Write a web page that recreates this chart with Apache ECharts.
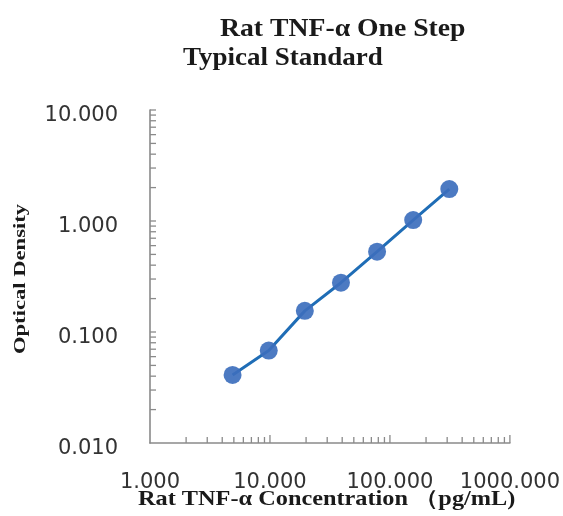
<!DOCTYPE html>
<html>
<head>
<meta charset="utf-8">
<script src="https://cdn.jsdelivr.net/npm/echarts@6/dist/echarts.min.js"></script>
<style>
html,body{margin:0;padding:0;background:#fff;}
#chart{width:563px;height:516px;}
</style>
</head>
<body>
<div id="chart"></div>
<script>
// Data
const concentrations = [4.88, 9.77, 19.53, 39.06, 78.13, 156.25, 312.5];
const opticalDensity = [0.041, 0.068, 0.155, 0.278, 0.529, 1.02, 1.94];
const xMinorTicks = [2,3,4,5,6,7,8,9,20,30,40,50,60,70,80,90,200,300,400,500,600,700,800,900];
const xMajorTicks = [10, 100, 1000];
const yMinorTicks = [0.02,0.03,0.04,0.05,0.06,0.07,0.08,0.09,0.2,0.3,0.4,0.5,0.6,0.7,0.8,0.9,2,3,4,5,6,7,8,9];
const yMajorTicks = [0.1, 1, 10];
const titleLine1 = 'Rat TNF-\u03b1 One Step';
const titleLine2 = 'Typical Standard';
const xAxisTitle = 'Rat TNF-\u03b1 Concentration \uff08pg/mL)';
const yAxisTitle = 'Optical Density';

const X_MIN = 1, X_MAX = 1000, Y_MIN = 0.01, Y_MAX = 10;
const tickColor = '#8a8a8a';
const serifBold = 'bold 25px "Liberation Serif"';

const xTickData = xMinorTicks.map(v => [v, Y_MIN, 0]).concat(xMajorTicks.map(v => [v, Y_MIN, 1]));
const yTickData = yMinorTicks.map(v => [X_MIN, v, 0]).concat(yMajorTicks.map(v => [X_MIN, v, 1]));

const chart = echarts.init(document.getElementById('chart'));
chart.setOption({
  backgroundColor: '#ffffff',
  animation: false,
  graphic: [
    {type: 'text', x: 220, y: 30, scaleX: 1.108, silent: true,
     style: {text: titleLine1, font: serifBold, fill: '#1a1a1a', textAlign: 'left', textVerticalAlign: 'middle', verticalAlign: 'middle'}},
    {type: 'text', x: 183, y: 59, scaleX: 1.08, silent: true,
     style: {text: titleLine2, font: serifBold, fill: '#1a1a1a', textAlign: 'left', textVerticalAlign: 'middle', verticalAlign: 'middle'}},
    {type: 'text', x: 138, y: 500, scaleX: 1.157, silent: true,
     style: {text: xAxisTitle, font: 'bold 21px "Liberation Serif"', fill: '#1a1a1a', textAlign: 'left', textVerticalAlign: 'middle', verticalAlign: 'middle'}},
    {type: 'text', x: 20.5, y: 279, rotation: Math.PI / 2, scaleX: 1.33, silent: true,
     style: {text: yAxisTitle, font: 'bold 17px "Liberation Serif"', fill: '#1a1a1a', textAlign: 'center', textVerticalAlign: 'middle', verticalAlign: 'middle'}}
  ],
  grid: {left: 150, right: 52, top: 110, bottom: 73, containLabel: false},
  xAxis: {
    type: 'log', logBase: 10, min: X_MIN, max: X_MAX,
    axisLine: {show: true, lineStyle: {color: tickColor, width: 1.6}},
    axisTick: {show: false},
    splitLine: {show: false},
    axisLabel: {fontFamily: 'DejaVu Sans', fontSize: 21, color: '#333', margin: 29,
      formatter: v => Number(v).toFixed(3)}
  },
  yAxis: {
    type: 'log', logBase: 10, min: Y_MIN, max: Y_MAX,
    axisLine: {show: true, lineStyle: {color: tickColor, width: 1.6}},
    axisTick: {show: false},
    splitLine: {show: false},
    axisLabel: {margin: 32,
      formatter: v => '{t|' + Number(v).toFixed(3) + '}',
      rich: {t: {fontFamily: 'DejaVu Sans', fontSize: 21, color: '#333', padding: [12, 0, 0, 0]}}}
  },
  series: [
    {
      type: 'custom', silent: true, clip: false, z: 1,
      data: xTickData,
      renderItem: function (params, api) {
        const p = api.coord([api.value(0), api.value(1)]);
        const len = api.value(2) ? 8 : 6;
        return {type: 'line', shape: {x1: p[0], y1: p[1], x2: p[0], y2: p[1] - len},
                style: {stroke: tickColor, lineWidth: 1.3}};
      }
    },
    {
      type: 'custom', silent: true, clip: false, z: 1,
      data: yTickData,
      renderItem: function (params, api) {
        const p = api.coord([api.value(0), api.value(1)]);
        const len = 6;
        return {type: 'line', shape: {x1: p[0], y1: p[1], x2: p[0] + len, y2: p[1]},
                style: {stroke: tickColor, lineWidth: 1.3}};
      }
    },
    {
      type: 'line', z: 3,
      data: concentrations.map((c, i) => [c, opticalDensity[i]]),
      symbol: 'circle', symbolSize: 18,
      itemStyle: {color: '#3d6fbd', opacity: 0.92},
      lineStyle: {color: '#1f6db6', width: 3}
    }
  ]
});
</script>
</body>
</html>
